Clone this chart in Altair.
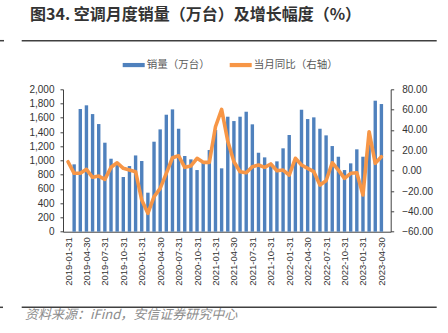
import altair as alt
import pandas as pd

# ---------------- data ----------------
months = [d.strftime("%Y-%m-%d") for d in pd.date_range("2019-01-31", periods=52, freq="ME")]
# 2019-01 has no bar in the reference (only the growth line starts there)
sales = [None, 946, 1723, 1775, 1652, 1512, 1250, 1025, 955, 768, 922, 1071,
         993, 548, 1264, 1437, 1643, 1718, 1446, 1063, 1016, 866, 969, 1147,
         1430, 890, 1615, 1554, 1615, 1685, 1508, 1109, 1044, 945, 988, 1171,
         1358, 995, 1713, 1582, 1606, 1446, 1353, 1203, 1053, 866, 960, 1157,
         1053, 1380, 1840, 1793]
yoy = [8.8, -2.6, -2.6, 1.3, -6.5, -5.3, -8.5, 3.3, 7.8, 2.3, 0.6, -1.0,
       -28.9, -41.9, -25.6, -17.4, -2.6, 12.7, 14.7, 3.3, 4.6, 12.2, 8.2, 8.2,
       43.2, 60.3, 29.0, 8.8, -1.0, -2.0, 3.9, 5.6, 3.3, 6.6, 0.0, 0.6,
       -4.3, 12.2, 5.6, 2.3, -1.0, -14.1, -9.9, 7.8, 0.6, -7.5, -2.6, -2.0,
       -23.9, 38.3, 7.2, 13.7]
tick_labels = ["2019-01-31", "2019-04-30", "2019-07-31", "2019-10-31",
               "2020-01-31", "2020-04-30", "2020-07-31", "2020-10-31",
               "2021-01-31", "2021-04-30", "2021-07-31", "2021-10-31",
               "2022-01-31", "2022-04-30", "2022-07-31", "2022-10-31",
               "2023-01-31", "2023-04-30"]
left_ticks = list(range(0, 2001, 200))
right_ticks = list(range(-60, 81, 20))
series_names = ["销量（万台）", "当月同比（右轴）"]
title_text = "图34. 空调月度销量（万台）及增长幅度（%）"
source_text = "资料来源：iFind，安信证券研究中心"

BLUE = "#4F81BD"
ORANGE = "#F79646"
LAT = "Liberation Sans"
CJK = "Noto Sans CJK SC"

df = pd.DataFrame({"idx": list(range(len(months))), "month": months,
                   "sales": sales, "yoy": yoy})

tick_vals = [months.index(t) for t in tick_labels]
label_expr = "[" + ",".join("'%s'" % t for t in tick_labels) + "][round(datum.value/3)]"

x_enc = alt.X("idx:Q",
              scale=alt.Scale(domain=[0, 51.7], nice=False, zero=False),
              axis=alt.Axis(values=tick_vals, tickCount=60, labelExpr=label_expr, labelAngle=270,
                            labelFont=LAT, labelFontSize=9.5, labelColor="#333333",
                            labelPadding=5, tickSize=0, grid=False, title=None,
                            domainColor="#404040", labelOverlap=False))

color_scale = alt.Scale(domain=series_names, range=[BLUE, ORANGE])
legend = alt.Legend(orient="none", direction="horizontal", legendX=59.7, legendY=-35.5,
                    title=None, symbolType="M-1,-0.19H1V0.19H-1Z", symbolSize=484,
                    symbolStrokeWidth=0, labelFont=CJK, labelFontSize=10.5,
                    labelColor="#595959", labelOffset=2, columnPadding=20, padding=0)

bars = alt.Chart(df).transform_filter("isValid(datum.sales)").transform_calculate(
    s="'%s'" % series_names[0]).mark_bar(size=3.4).encode(
    x=x_enc,
    y=alt.Y("sales:Q", scale=alt.Scale(domain=[0, 2000], nice=False),
            axis=alt.Axis(values=left_ticks, tickCount=20, format=",.0f", orient="left",
                          title=None, grid=False,
                          labelFont=LAT, labelFontSize=10, labelColor="#333333",
                          tickSize=3, labelPadding=6, domainColor="#404040", tickColor="#404040")),
    color=alt.Color("s:N", scale=color_scale, legend=legend),
)

line = alt.Chart(df).mark_line(
    color=ORANGE, strokeWidth=3.6, strokeJoin="round", strokeCap="round").encode(
    x=alt.X("idx:Q"),
    y=alt.Y("yoy:Q", scale=alt.Scale(domain=[-60, 80], nice=False, zero=False),
            axis=alt.Axis(values=right_ticks, tickCount=20, format=".2f", orient="right",
                          title=None, grid=False,
                          labelFont=LAT, labelFontSize=10, labelColor="#333333",
                          tickSize=3, labelPadding=8, domainColor="#404040", tickColor="#404040")),
)

one = pd.DataFrame({"t": [title_text], "src": [source_text]})
title = alt.Chart(one).mark_text(align="left", baseline="middle", font=CJK, fontSize=16,
                                 fontWeight="bold", color="#333333").encode(
    x=alt.value(-33), y=alt.value(-74.3), text="t:N")
source = alt.Chart(one).mark_text(align="left", baseline="middle", font=CJK, fontSize=13,
                                  fontStyle="italic", color="#8c8c8c").encode(
    x=alt.value(-38), y=alt.value(225.7), text="src:N")
rule_top = alt.Chart(one).mark_rule(color="#404040", strokeWidth=1.5).encode(
    x=alt.value(-41.3), x2=alt.value(373.7), y=alt.value(-48.6))
rule_bot = alt.Chart(one).mark_rule(color="#404040", strokeWidth=1.5).encode(
    x=alt.value(-41.3), x2=alt.value(373.7), y=alt.value(218))
frag_top = alt.Chart(one).mark_rule(color="#404040", strokeWidth=1.5).encode(
    x=alt.value(-63), x2=alt.value(-59), y=alt.value(-48.6))
frag_bot = alt.Chart(one).mark_rule(color="#404040", strokeWidth=1.5).encode(
    x=alt.value(-63), x2=alt.value(-60), y=alt.value(218))

main = alt.layer(bars, line).resolve_scale(y="independent")
chart = alt.layer(main, title, source, rule_top, rule_bot, frag_top, frag_bot).properties(
    width=327.7, height=142.4,
    autosize=alt.AutoSizeParams(type="none"),
    padding={"left": 63, "top": 89.3, "right": 57.3, "bottom": 101.3},
    background="white",
).configure_view(stroke=None)

chart.save("out.html", embed_options={"renderer": "svg", "actions": False})
